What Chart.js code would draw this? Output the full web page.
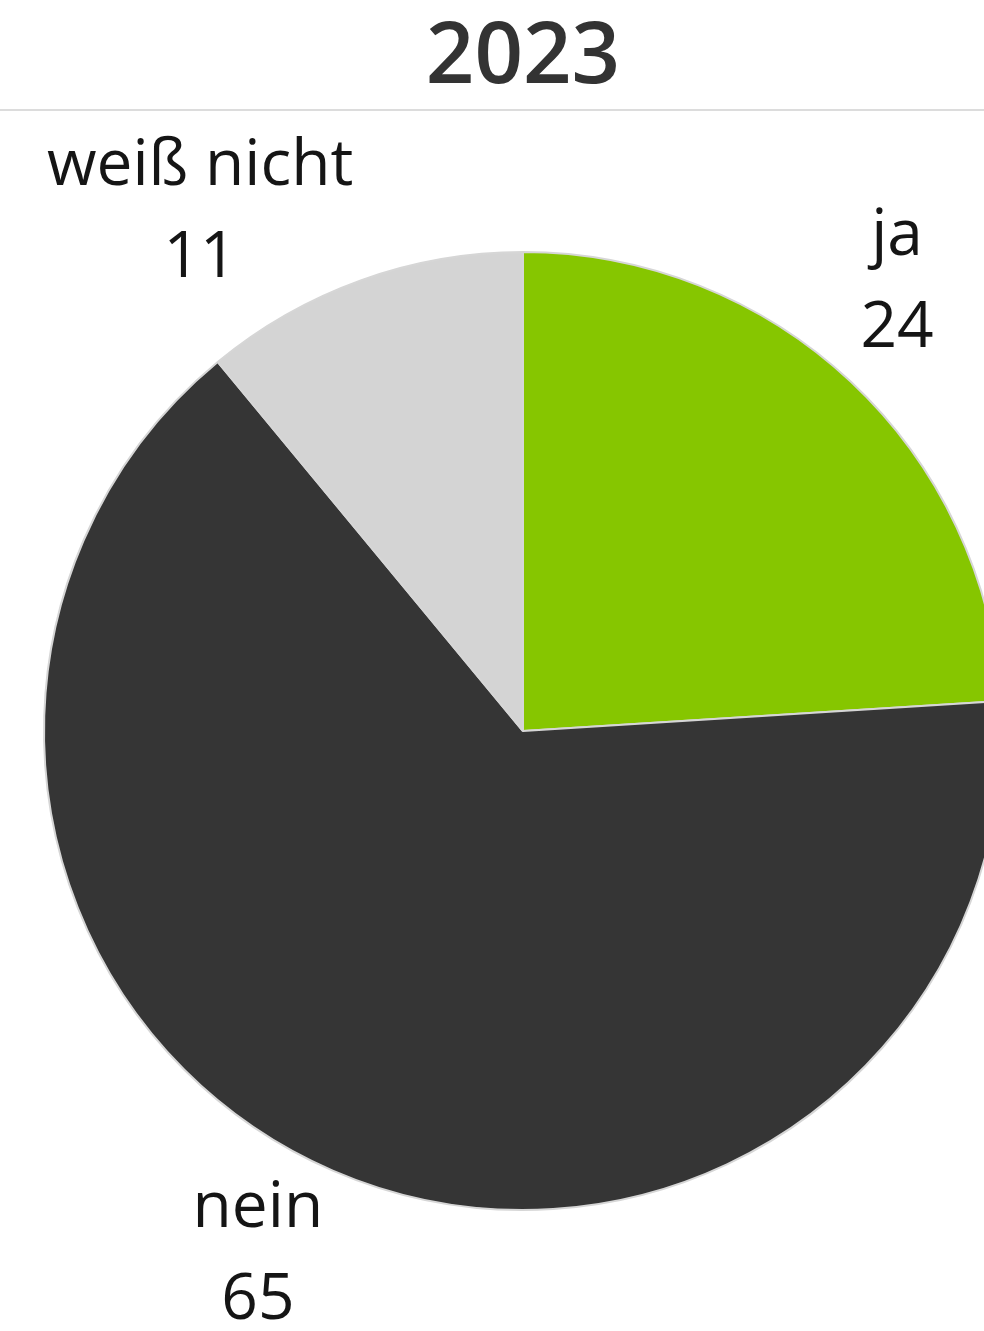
<!DOCTYPE html>
<html>
<head>
<meta charset="utf-8">
<script src="https://cdn.jsdelivr.net/npm/chart.js@4/dist/chart.umd.min.js"></script>
<style>
  html, body { margin: 0; padding: 0; background: #fff; }
  body { width: 984px; height: 1331px; position: relative; overflow: hidden; }
  #title {
    position: absolute; left: 0; top: 8px; width: 1046px; text-align: center;
    font: 600 85px/85px "Open Sans", sans-serif; color: #333;
  }
  #rule { position: absolute; left: 0; top: 109px; width: 984px; height: 2px; background: #dcdcdc; }
  #wrap { position: absolute; left: 0; top: 0; width: 1010px; height: 1331px; }
</style>
</head>
<body>
<div id="title">2023</div>
<div id="rule"></div>
<div id="wrap"><canvas id="pie" width="1010" height="1331"></canvas></div>
<script>
const categories = ['ja', 'nein', 'weiß nicht'];
const values = [24, 65, 11];
const sliceColors = ['#86c600', '#353535', '#d4d4d4'];
// nudges from the default label spot, per slice
const labelNudge = [[-26, -22], [-33, -13], [-125, 32]];

const outsideLabels = {
  id: 'outsideLabels',
  afterDatasetsDraw(chart) {
    const ctx = chart.ctx;
    const arcs = chart.getDatasetMeta(0).data;
    ctx.save();
    ctx.font = '64px "Open Sans", sans-serif';
    ctx.fillStyle = '#151515';
    ctx.textAlign = 'center';
    ctx.textBaseline = 'middle';
    arcs.forEach((arc, i) => {
      const { x, y, startAngle, endAngle, outerRadius } = arc.getProps(['x', 'y', 'startAngle', 'endAngle', 'outerRadius'], true);
      const mid = (startAngle + endAngle) / 2;
      const d = outerRadius * 1.22;
      const cx = x + Math.cos(mid) * d + labelNudge[i][0];
      const cy = y + Math.sin(mid) * d + labelNudge[i][1];
      ctx.fillText(categories[i], cx, cy - 46);
      ctx.fillText(String(values[i]), cx, cy + 46);
    });
    ctx.restore();
  }
};

new Chart(document.getElementById('pie'), {
  type: 'pie',
  data: {
    labels: categories,
    datasets: [{
      data: values,
      backgroundColor: sliceColors,
      borderColor: '#d6d6d6',
      borderWidth: 2,
      hoverOffset: 0
    }]
  },
  options: {
    responsive: false,
    animation: false,
    devicePixelRatio: 1,
    radius: 479,
    layout: { padding: { left: 43, right: 7, top: 251, bottom: 120 } },
    plugins: { legend: { display: false }, tooltip: { enabled: false } }
  },
  plugins: [outsideLabels]
});
</script>
</body>
</html>
